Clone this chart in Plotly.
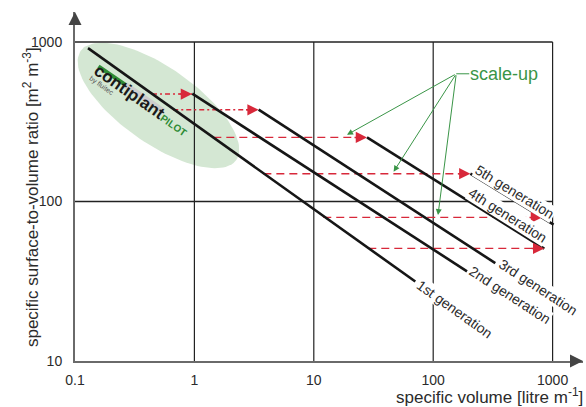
import numpy as np
import plotly.graph_objects as go

# ---------------- data ----------------
x_ticks = [0.1, 1, 10, 100, 1000]
x_ticktext = ["0.1", "1", "10", "100", "1000"]
y_ticks = [10, 100, 1000]
y_ticktext = ["10", "100", "1000"]

gen_names = ["1st generation", "2nd generation", "3rd generation",
             "4th generation", "5th generation"]
gen_x_start = [0.1285, 0.96, 3.45, 27.9, 204.7]
gen_y_start = [916, 474, 377, 252.5, 149.4]
gen_x_end = [70.8, 191.9, 331, 851, 1019]
gen_y_end = [31.5, 36.5, 41.1, 50.6, 71.6]

transfer_y = [472, 376, 252.3, 149.4, 79.5, 50.8]
transfer_x_from = [0.4416, 0.665, 1.44, 3.78, 12.0, 28.6]
transfer_x_to = [0.955, 3.45, 27.9, 204.7, 815, 851]
transfer_dash = ["5px,3px,2px,3px", "5px,3px,2px,3px", "8px,5px", "8px,5px", "8px,5px", "8px,5px"]

scaleup_origin_x = 156
scaleup_origin_y = 632
scaleup_target_x = [18.97, 46.6, 109.7]
scaleup_target_y = [262, 153.8, 82.3]

ellipse_center_x = 0.5
ellipse_center_y = 400

# ---------------- layout constants ----------------
W, H = 586, 407
ML, MR, MT, MB = 75, 3, 12, 46
X_DEC = 119.4
Y_DEC = 159.5
x_range = [-1, -1 + (W - ML - MR) / X_DEC]
y_range = [1, 1 + (H - MT - MB) / Y_DEC]

FONT = "Liberation Sans, Arial, sans-serif"
TXT = "#2b2b2b"
RED = "#d8283a"
GREEN = "#3a9547"

label_along = [48, 49, 49, -49, -50]
label_normal = [0, 3, 3, 9, 8]

fig = go.Figure()

# ellipse (decoration) in pixel space around centre
lcx, lcy = np.log10(ellipse_center_x), np.log10(ellipse_center_y)
t = np.linspace(0, 2 * np.pi, 120)
a, b, th = 95, 38, np.radians(35)
dx = a * np.cos(t) * np.cos(th) - b * np.sin(t) * np.sin(th)
dy = a * np.cos(t) * np.sin(th) + b * np.sin(t) * np.cos(th)
fig.add_trace(go.Scatter(x=10 ** (lcx + dx / X_DEC), y=10 ** (lcy - dy / Y_DEC),
                         mode="lines", fill="toself", fillcolor="#d4e7d3",
                         line=dict(width=0, color="#d4e7d3"), hoverinfo="skip"))

# logo bars
def offs(dxp, dyp):
    return 10 ** (lcx + dxp / X_DEC), 10 ** (lcy - dyp / Y_DEC)

gx0, gy0 = offs(-60, -39)
gx1, gy1 = offs(-33, -20.5)
gx2, gy2 = offs(5, 6)
fig.add_trace(go.Scatter(x=[gx1, gx2], y=[gy1, gy2], mode="lines",
                         line=dict(color="#cdcdcd", width=6), hoverinfo="skip"))
fig.add_trace(go.Scatter(x=[gx0, gx1], y=[gy0, gy1], mode="lines",
                         line=dict(color="#2e8b35", width=4), hoverinfo="skip"))

# gridlines
for xv in x_ticks[1:]:
    fig.add_trace(go.Scatter(x=[xv, xv], y=[y_ticks[0], y_ticks[-1]], mode="lines",
                             line=dict(color="#222", width=1.2), hoverinfo="skip"))
for yv in y_ticks[1:]:
    fig.add_trace(go.Scatter(x=[x_ticks[0], x_ticks[-1]], y=[yv, yv], mode="lines",
                             line=dict(color="#222", width=1.4), hoverinfo="skip"))

# transfer (scale-up) dashed arrows
for yv, x0, x1, d in zip(transfer_y, transfer_x_from, transfer_x_to, transfer_dash):
    fig.add_trace(go.Scatter(x=[x0, x1], y=[yv, yv], mode="lines",
                             line=dict(color=RED, width=1.4, dash=d), hoverinfo="skip"))
    fig.add_annotation(x=np.log10(x1), y=np.log10(yv), ax=-14, ay=0, text="",
                       showarrow=True, arrowhead=2, arrowsize=1.5, arrowwidth=1.5,
                       arrowcolor=RED, standoff=0)

# generation lines
for xs, ys, xe, ye in zip(gen_x_start, gen_y_start, gen_x_end, gen_y_end):
    fig.add_trace(go.Scatter(x=[xs, xe], y=[ys, ye], mode="lines",
                             line=dict(color="#161616", width=2.6), hoverinfo="skip"))

# generation labels
for name, xs, ys, xe, ye, al, nm in zip(gen_names, gen_x_start, gen_y_start, gen_x_end,
                                         gen_y_end, label_along, label_normal):
    ddx = (np.log10(xe) - np.log10(xs)) * X_DEC
    ddy = -(np.log10(ye) - np.log10(ys)) * Y_DEC
    ang = np.arctan2(ddy, ddx)
    c, s = np.cos(ang), np.sin(ang)
    px = al * c + nm * s
    py = al * s - nm * c
    fig.add_annotation(x=np.log10(xe), y=np.log10(ye), text=name, showarrow=False,
                       textangle=np.degrees(ang), xshift=px, yshift=-py,
                       xanchor="center", yanchor="middle", bgcolor="white", borderpad=0,
                       font=dict(family=FONT, size=14, color=TXT))

# scale-up callout
for tx, ty in zip(scaleup_target_x, scaleup_target_y):
    fig.add_annotation(x=np.log10(tx), y=np.log10(ty), ax=np.log10(scaleup_origin_x),
                       ay=np.log10(scaleup_origin_y), axref="x", ayref="y", text="",
                       showarrow=True, arrowhead=2, arrowsize=1.2, arrowwidth=1,
                       arrowcolor=GREEN, standoff=0)
fig.add_annotation(x=np.log10(scaleup_origin_x), y=np.log10(scaleup_origin_y), ax=13, ay=0,
                   text="scale-up", xanchor="left", showarrow=True, arrowhead=0,
                   arrowwidth=1, arrowcolor=GREEN, borderpad=0,
                   font=dict(family=FONT, size=18, color=GREEN))

# logo text
fig.add_annotation(x=lcx, y=lcy, xshift=-17, yshift=5, showarrow=False, textangle=35,
                   text="<b>contiplant</b><b><span style='color:#2e8b35;font-size:10px'>PILOT</span></b>",
                   font=dict(family=FONT, size=17, color="#1a1a1a"))
fig.add_annotation(x=lcx, y=lcy, xshift=-57, yshift=19, showarrow=False, textangle=35,
                   text="by fluitec", font=dict(family=FONT, size=7, color="#555"))

# axis arrows
fig.add_annotation(x=1, y=0, xref="paper", yref="paper", ax=-12, ay=0, text="",
                   showarrow=True, arrowhead=2, arrowsize=1.3, arrowwidth=2,
                   arrowcolor="#444", standoff=0)
fig.add_annotation(x=0, y=1, xref="paper", yref="paper", ax=0, ay=12, text="",
                   showarrow=True, arrowhead=2, arrowsize=1.3, arrowwidth=2,
                   arrowcolor="#444", standoff=0)

# axis titles
fig.add_annotation(x=1, y=0, xref="paper", yref="paper", xanchor="right", yanchor="middle",
                   xshift=2, yshift=-35, showarrow=False,
                   text="specific volume [litre m<sup>-1</sup>]",
                   font=dict(family=FONT, size=17, color=TXT))
fig.add_annotation(x=-0.112, y=0.47, xref="paper", yref="paper", showarrow=False,
                   textangle=-90,
                   text="specific surface-to-volume ratio [m<sup>2</sup> m<sup>-3</sup>]",
                   font=dict(family=FONT, size=17, color=TXT))

fig.update_layout(
    width=W, height=H,
    margin=dict(l=ML, r=MR, t=MT, b=MB),
    paper_bgcolor="white", plot_bgcolor="white",
    showlegend=False,
    font=dict(family=FONT, size=14, color=TXT),
    xaxis=dict(type="log", range=x_range, tickvals=x_ticks, ticktext=x_ticktext,
               showgrid=False, zeroline=False, showline=True, linecolor="#6a6a6a",
               linewidth=2, ticks="", ticklabelstandoff=5,
               tickfont=dict(family=FONT, size=14, color=TXT)),
    yaxis=dict(type="log", range=y_range, tickvals=y_ticks, ticktext=y_ticktext,
               showgrid=False, zeroline=False, showline=True, linecolor="#6a6a6a",
               linewidth=2, ticks="", ticklabelstandoff=8,
               tickfont=dict(family=FONT, size=14, color=TXT)),
)

fig.write_html("out.html", config={"displayModeBar": False},
               post_script="document.body.style.margin='0px';document.body.style.padding='0px';document.body.style.overflow='hidden';")
